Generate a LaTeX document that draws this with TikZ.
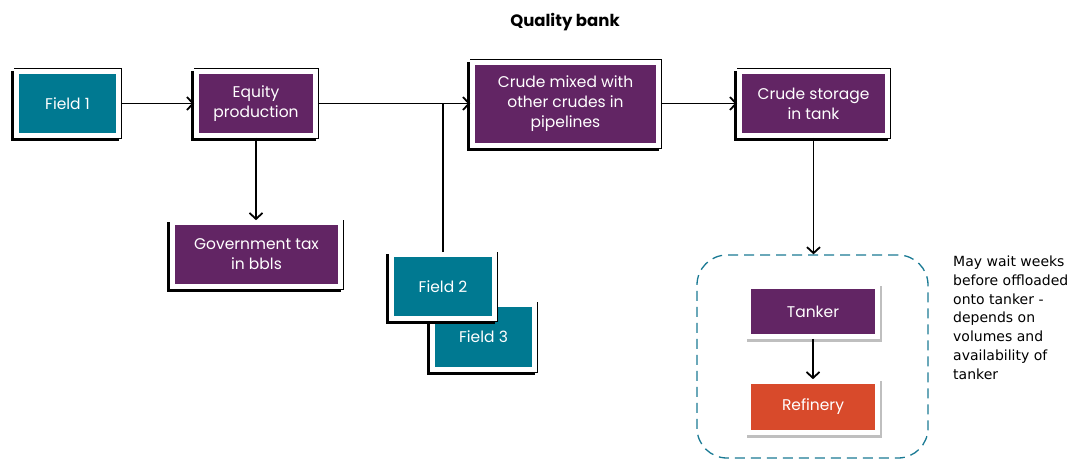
\documentclass[tikz,border=0pt]{standalone}
\usepackage{fontspec}
\setmainfont{Poppins}
\newfontfamily\notefont{DejaVu Sans}
\usetikzlibrary{positioning}
\usetikzlibrary{shadows}
\usetikzlibrary{arrows.meta}

\definecolor{fieldteal}{RGB}{0,121,145}
\definecolor{crudepurple}{RGB}{98,37,100}
\definecolor{refineryred}{RGB}{216,74,43}
\definecolor{shipteal}{RGB}{26,122,148}

\tikzset{
  boxtext/.style={text=white, align=center, inner sep=0pt, font=\fontsize{15.5}{20}\selectfont},
  flowbox/.style={boxtext, draw=white, line width=4.6pt,
    drop shadow={shadow xshift=-2.5pt, shadow yshift=-2.5pt, opacity=1, fill=black, draw=black, line width=6pt},
    preaction={draw=black, line width=6pt}},
  shipbox/.style={boxtext, draw=white, line width=4.6pt,
    drop shadow={shadow xshift=1pt, shadow yshift=-2pt, opacity=.25, fill=black, draw=black, line width=6pt}},
  flowline/.style={black, line width=1.3pt, -{Straight Barb[length=6pt, width=13pt, line width=1.8pt]}}
}

\begin{document}
\begin{tikzpicture}[x=1pt, y=-1pt]
  \useasboundingbox (0, 0) rectangle (1085, 460);
  \node (title) at (565, 22) {\fontsize{16.5}{18}\selectfont\bfseries Quality bank};
  \node (field1) at (67.5, 103.5) [flowbox, fill=fieldteal, minimum width=102, minimum height=64] {Field 1};
  \node (equity) at (256, 103.5) [flowbox, fill=crudepurple, minimum width=119, minimum height=64] {Equity\\production};
  \node (mixed) at (565.5, 104) [flowbox, fill=crudepurple, minimum width=186, minimum height=83] {Crude mixed with\\other crudes in\\pipelines};
  \node (storage) at (813.5, 103.5) [flowbox, fill=crudepurple, minimum width=148, minimum height=64] {Crude storage\\in tank};
  \node (govtax) at (256.5, 254.5) [flowbox, fill=crudepurple, minimum width=168, minimum height=64] {Government tax\\in bbls};
  \node (field3) at (483.5, 337) [flowbox, fill=fieldteal, minimum width=102, minimum height=65] {Field 3};
  \node (field2) at (443, 286.5) [flowbox, fill=fieldteal, minimum width=103, minimum height=64] {Field 2};
  \node (shipping) at (812.5, 356.5) [draw=shipteal, line width=1.3pt, dash pattern=on 10pt off 6pt, rounded corners=30pt, minimum width=231, minimum height=203] {};
  \node (tanker) at (813, 311.5) [shipbox, fill=crudepurple, minimum width=129, minimum height=50] {Tanker};
  \node (refinery) at (813, 407) [shipbox, fill=refineryred, minimum width=129, minimum height=51] {Refinery};
  \node (note) at (953, 256) [anchor = north west, align = left, inner sep = 0pt, font = \notefont\fontsize{14}{18.7}\selectfont] {May wait weeks\\before offloaded\\onto tanker -\\depends on\\volumes and\\availability of\\tanker};
  \draw[flowline] (field1.east)--(field1.east -| equity.west);
  \draw[flowline] (equity.east)--(equity.east -| mixed.west);
  \draw[flowline] (mixed.east |- storage.west)--(storage.west);
  \draw[flowline] (equity.south)--(equity.south |- govtax.north);
  \draw[black, line width=1.3pt] (field2.north)--(field2.north |- equity.east);
  \draw[flowline] (storage.south)--(storage.south |- shipping.north);
  \draw[flowline] (tanker.south)--(tanker.south |- refinery.north);
\end{tikzpicture}
\end{document}
